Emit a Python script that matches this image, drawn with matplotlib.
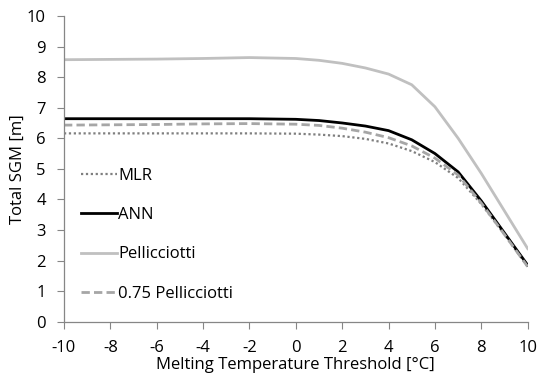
import matplotlib
matplotlib.use("Agg")
import matplotlib.pyplot as plt

x = [-10, -8, -6, -4, -2, 0, 1, 2, 3, 4, 5, 6, 7, 8, 9, 10]
mlr = [6.16, 6.16, 6.16, 6.16, 6.16, 6.15, 6.12, 6.07, 5.98, 5.83, 5.58, 5.22, 4.70, 3.85, 2.85, 1.80]
ann = [6.64, 6.64, 6.64, 6.64, 6.64, 6.62, 6.58, 6.50, 6.40, 6.25, 5.95, 5.50, 4.90, 3.95, 2.90, 1.85]
pell = [8.57, 8.58, 8.59, 8.61, 8.64, 8.61, 8.55, 8.45, 8.30, 8.10, 7.75, 7.03, 6.00, 4.85, 3.62, 2.39]
pell75 = [6.43, 6.44, 6.45, 6.47, 6.48, 6.46, 6.42, 6.33, 6.20, 6.02, 5.75, 5.35, 4.80, 3.88, 2.85, 1.80]

xticks = list(range(-10, 11, 2))
yticks = list(range(0, 11))

plt.rcParams['font.family'] = ['Open Sans', 'DejaVu Sans']
plt.rcParams['axes.unicode_minus'] = False
fig = plt.figure(figsize=(5.39, 3.78), dpi=100)
ax = fig.add_axes([0.1187, 0.149, 0.8603, 0.8087])

ax.plot(x, mlr, color='#7f7f7f', lw=1.6, ls=(0, (1, 1.2)), label='MLR')
ax.plot(x, ann, color='black', lw=2.0, label='ANN')
ax.plot(x, pell, color='#c0c0c0', lw=2.0, label='Pellicciotti')
ax.plot(x, pell75, color='#a6a6a6', lw=2.0, ls=(0, (3, 1.5)), label='0.75 Pellicciotti')

ax.set_xlim(-10, 10)
ax.set_ylim(0, 10)
ax.set_xticks(xticks)
ax.set_yticks(yticks)
ax.tick_params(axis='both', labelsize=12, color='#868686', length=5, direction='out')
ax.tick_params(axis='x', pad=8)
ax.tick_params(axis='y', pad=8)
for s in ['top', 'right']:
    ax.spines[s].set_visible(False)
for s in ['left', 'bottom']:
    ax.spines[s].set_color('#868686')
    ax.spines[s].set_linewidth(0.9)

ax.set_xlabel('Melting Temperature Threshold [°C]', fontsize=12, labelpad=1)
ax.set_ylabel('Total SGM [m]', fontsize=12, labelpad=1)

leg = ax.legend(loc='upper left', bbox_to_anchor=(0.004, 0.5525), frameon=False,
                fontsize=12, handlelength=2.15, handletextpad=0.1, labelspacing=1.4)

fig.savefig('out.png', dpi=100)
